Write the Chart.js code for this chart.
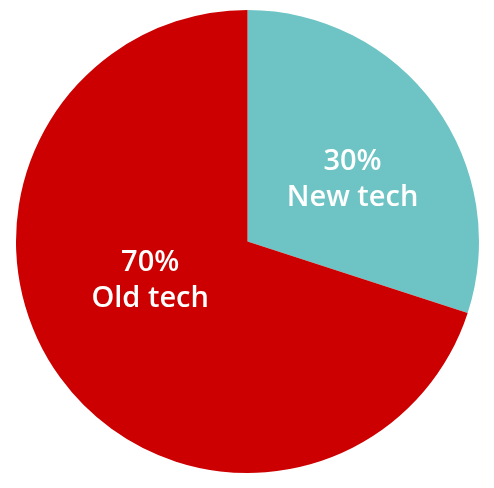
<!DOCTYPE html>
<html>
<head>
<meta charset="utf-8">
<script src="https://cdn.jsdelivr.net/npm/chart.js@4/dist/chart.umd.min.js"></script>
<style>
html,body{margin:0;padding:0;background:#fff;}
#wrap{width:494px;height:488px;position:relative;}
</style>
</head>
<body>
<div id="wrap"><canvas id="c" width="494" height="488"></canvas></div>
<script>
const categories = ["New tech", "Old tech"];
const values = [30, 70];
const colors = ["#6EC4C4", "#CC0000"];
// label placement: angle (deg, clockwise from top) and distance as fraction of radius
const labelAngles = [59.6, 247.8];
const labelDist = [0.526, 0.454];

const labelPlugin = {
  id: 'sliceLabels',
  afterDatasetsDraw(chart) {
    const ctx = chart.ctx;
    const meta = chart.getDatasetMeta(0);
    const total = values.reduce((a, b) => a + b, 0);
    meta.data.forEach((arc, i) => {
      const r = arc.outerRadius;
      const a = labelAngles[i] * Math.PI / 180;
      const x = arc.x + Math.sin(a) * r * labelDist[i];
      const y = arc.y - Math.cos(a) * r * labelDist[i];
      ctx.save();
      ctx.fillStyle = '#ffffff';
      ctx.textAlign = 'center';
      ctx.textBaseline = 'middle';
      ctx.font = '600 29px "Open Sans", sans-serif';
      ctx.fillText(Math.round(values[i] / total * 100) + '%', x, y - 18);
      ctx.fillText(categories[i], x, y + 18);
      ctx.restore();
    });
  }
};

new Chart(document.getElementById('c'), {
  type: 'pie',
  data: {
    labels: categories,
    datasets: [{
      data: values,
      backgroundColor: colors,
      borderWidth: 0
    }]
  },
  options: {
    responsive: false,
    animation: false,
    layout: { padding: { left: 16, right: 15, top: 10, bottom: 15 } },
    plugins: {
      legend: { display: false },
      tooltip: { enabled: false }
    }
  },
  plugins: [labelPlugin]
});
</script>
</body>
</html>
